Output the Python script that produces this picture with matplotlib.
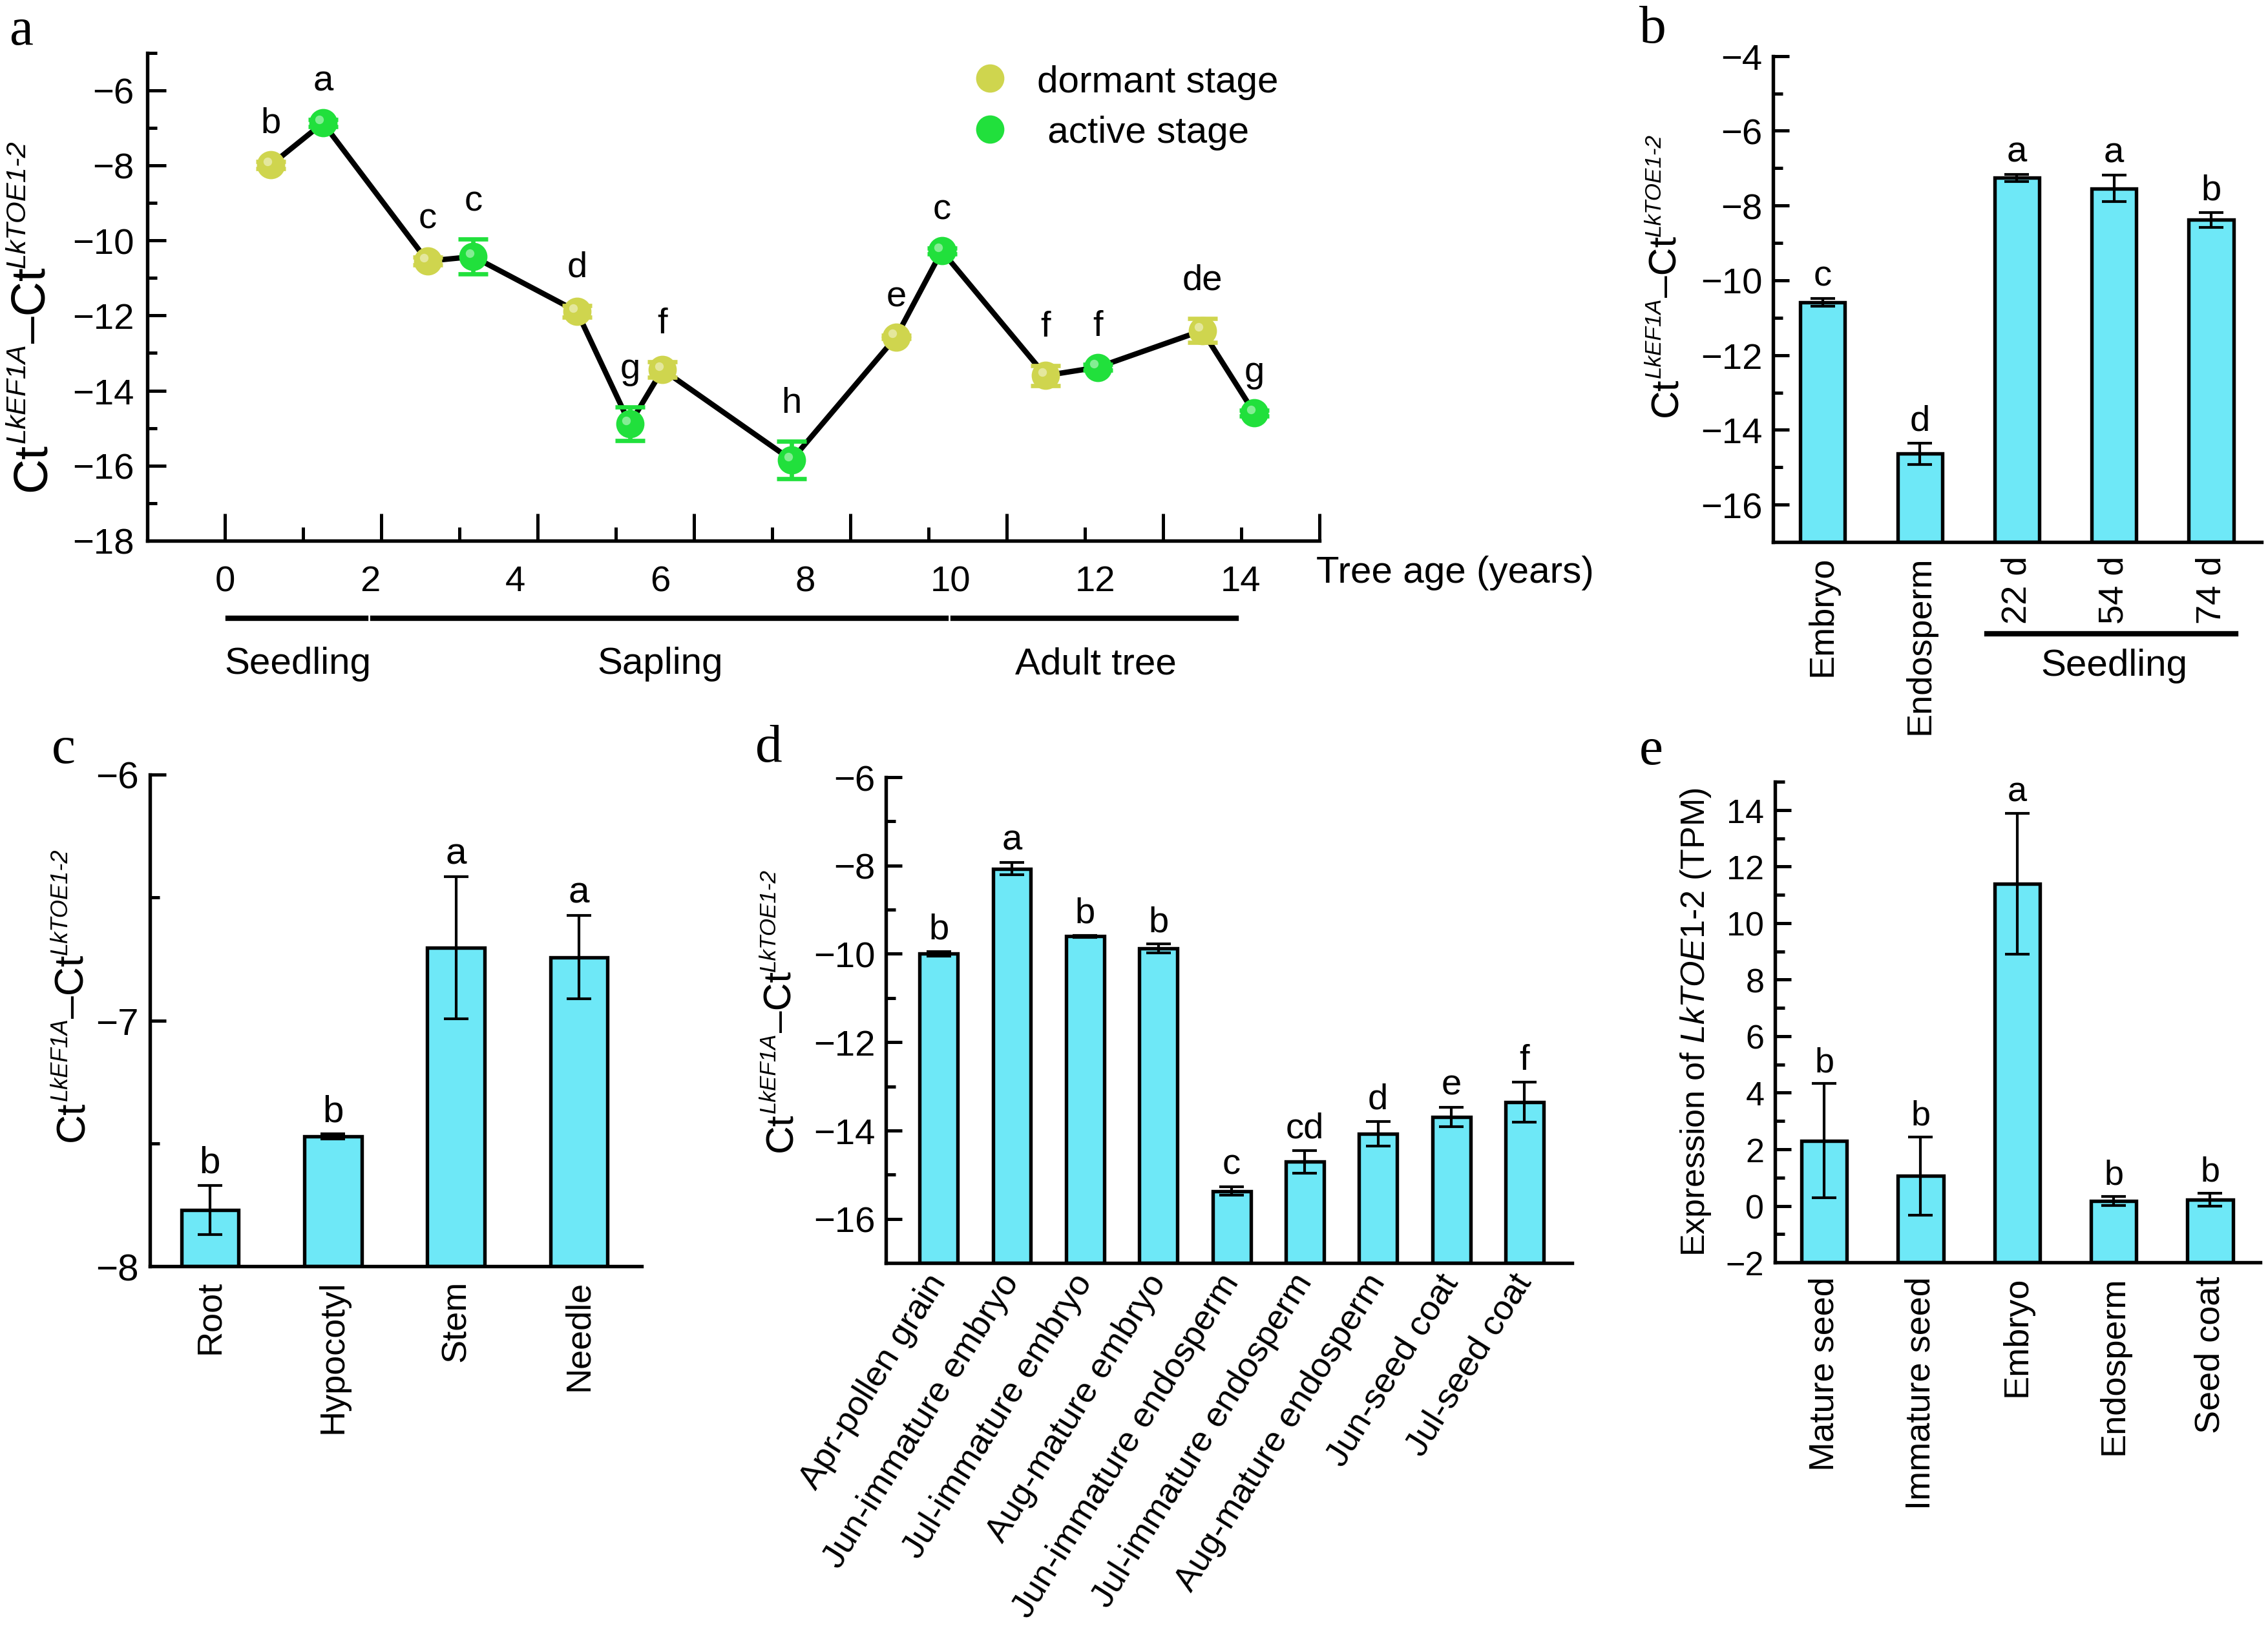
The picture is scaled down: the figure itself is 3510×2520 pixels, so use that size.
import matplotlib.pyplot as plt
import matplotlib.transforms as mtransforms
import numpy as np

plt.rcParams['font.family'] = ['Liberation Sans', 'DejaVu Sans']
plt.rcParams['mathtext.fontset'] = 'custom'
plt.rcParams['mathtext.rm'] = 'Liberation Sans'
plt.rcParams['mathtext.it'] = 'Liberation Sans:italic'

# ---- panel a: tree age series ----
ages = [0.63, 1.35, 2.79, 3.42, 4.85, 5.58, 6.03, 7.81, 9.25, 9.88, 11.31, 12.03, 13.47, 14.19]
ct_a = [-7.99, -6.87, -10.55, -10.43, -11.89, -14.89, -13.44, -15.85,
        -12.57, -10.28, -13.60, -13.38, -12.40, -14.60]
err_a = [0.10, 0.10, 0.10, 0.46, 0.15, 0.45, 0.20, 0.50, 0.05, 0.08, 0.27, 0.08, 0.32, 0.07]
stage_a = ['dormant', 'active'] * 7
sig_a = ['b', 'a', 'c', 'c', 'd', 'g', 'f', 'h', 'e', 'c', 'f', 'f', 'de', 'g']
age_ticks = [0, 2, 4, 6, 8, 10, 12, 14]
phase_names = ['Seedling', 'Sapling', 'Adult tree']
phase_start = [0, 2, 10]
phase_end = [2, 10, 14]

# ---- panel b: seed / seedling ----
b_names = ['Embryo', 'Endosperm', '22 d', '54 d', '74 d']
b_vals = [-10.59, -14.64, -7.26, -7.54, -8.38]
b_err = [0.10, 0.28, 0.09, 0.36, 0.20]
b_sig = ['c', 'd', 'a', 'a', 'b']

# ---- panel c: seedling organs ----
c_names = ['Root', 'Hypocotyl', 'Stem', 'Needle']
c_vals = [-7.77, -7.472, -6.704, -6.743]
c_err = [0.10, 0.01, 0.29, 0.17]
c_sig = ['b', 'b', 'a', 'a']

# ---- panel d: reproductive tissues ----
d_names = ['Apr-pollen grain', 'Jun-immature embryo', 'Jul-immature embryo',
           'Aug-mature embryo', 'Jun-immature endosperm', 'Jul-immature endosperm',
           'Aug-mature endosperm', 'Jun-seed coat', 'Jul-seed coat']
d_vals = [-10.00, -8.07, -9.60, -9.88, -15.37, -14.71, -14.07, -13.69, -13.36]
d_err = [0.05, 0.14, 0.02, 0.10, 0.10, 0.26, 0.28, 0.22, 0.45]
d_sig = ['b', 'a', 'b', 'b', 'c', 'cd', 'd', 'e', 'f']

# ---- panel e: TPM ----
e_names = ['Mature seed', 'Immature seed', 'Embryo', 'Endosperm', 'Seed coat']
e_vals = [2.30, 1.06, 11.39, 0.17, 0.22]
e_err = [2.02, 1.38, 2.50, 0.16, 0.22]
e_sig = ['b', 'b', 'a', 'b', 'b']

BAR = '#6ee8f7'
DORM = '#cfd54e'
ACT = '#21e03c'
LW = 1.3

fig = plt.figure(figsize=(11.7, 8.4033), dpi=300)
ax_a = fig.add_axes([0.0650, 0.6676, 0.5168, 0.2996])
ax_b = fig.add_axes([0.7818, 0.6668, 0.2154, 0.2984])
ax_c = fig.add_axes([0.0660, 0.2221, 0.2169, 0.3019])
ax_d = fig.add_axes([0.3906, 0.2241, 0.3026, 0.2983])
ax_e = fig.add_axes([0.7826, 0.2245, 0.2140, 0.2951])

for ax in (ax_a, ax_b, ax_c, ax_d, ax_e):
    ax.spines[['top', 'right']].set_visible(False)
    ax.spines[['left', 'bottom']].set_linewidth(LW)


def stacked_ylabel(x, yc, parts):
    # rotated label built from pieces (text, size, style, rise in pt)
    items = []
    for s, size, style, rise in parts:
        t = fig.text(0, 0, s, fontsize=size, style=style, rotation=90,
                     rotation_mode='anchor', ha='left', va='baseline')
        items.append((t, rise))
    r = fig.canvas.get_renderer()
    W, H = fig.bbox.width, fig.bbox.height
    lens = [t.get_window_extent(r).height for t, _ in items]
    y = yc * H - sum(lens) / 2
    for (t, rise), L in zip(items, lens):
        t.set_position((x - rise * fig.dpi / 72 / W, y / H))
        y += L


def ct_label(x, yc, size):
    stacked_ylabel(x, yc, [('Ct', size, 'normal', 0),
                           ('LkEF1A', size * 0.58, 'italic', size * 0.42),
                           ('\u2013Ct', size, 'normal', 0),
                           ('LkTOE1-2', size * 0.58, 'italic', size * 0.42)])


# ================= panel a =================
ax = ax_a
ax.plot(ages, ct_a, color='black', lw=2, zorder=2)
for st, col, lab in (('dormant', DORM, 'dormant stage'), ('active', ACT, ' active stage')):
    idx = [i for i, s in enumerate(stage_a) if s == st]
    xs = [ages[i] for i in idx]
    ys = [ct_a[i] for i in idx]
    es = [err_a[i] for i in idx]
    ax.errorbar(xs, ys, yerr=es, fmt='none', ecolor=col, elinewidth=1.6,
                capsize=5.5, capthick=1.6, zorder=3)
    ax.plot(xs, ys, 'o', color=col, ms=9.5, mec=col, zorder=4, label=lab)
    hl = mtransforms.offset_copy(ax.transData, fig=fig, x=-1.3, y=1.3, units='points')
    ax.plot(xs, ys, 'o', color='white', alpha=0.45, ms=3.2, mew=0, zorder=5, transform=hl)
for x, y, e, s in zip(ages, ct_a, err_a, sig_a):
    ax.annotate(s, (x, y + e), xytext=(0, 8), textcoords='offset points',
                ha='center', va='bottom', fontsize=13.5)

step = 1.0775
ax.set_xlim(-1.07, 14 * step + 0.002)
ax.set_ylim(-18, -5)
ax.set_xticks(np.arange(0, 15, 2) * step)
ax.set_xticks(np.arange(1, 15, 2) * step, minor=True)
ax.set_xticklabels([])
ax.tick_params(axis='x', which='major', direction='in', length=10, width=1.2)
ax.tick_params(axis='x', which='minor', direction='in', length=5, width=1.2)
ax.set_yticks(np.arange(-18, -5, 2))
ax.set_yticks(np.arange(-17, -4, 2), minor=True)
ax.tick_params(axis='y', which='major', direction='in', length=7, width=1.2,
               labelsize=13.5, pad=5)
ax.tick_params(axis='y', which='minor', direction='in', length=3.5, width=1.2)
sec = ax.secondary_xaxis('bottom')
sec.set_xticks(age_ticks)
sec.tick_params(length=0, pad=9, labelsize=13.5)
sec.spines['bottom'].set_visible(False)

tr = ax.get_xaxis_transform()
for name, a0, a1 in zip(phase_names, phase_start, phase_end):
    ax.plot([a0 + 0.04, a1 - 0.06], [-0.159, -0.159], color='black', lw=2,
            transform=tr, clip_on=False)
    ax.text((a0 + a1) / 2, -0.252, name, transform=tr, ha='center', va='center',
            fontsize=14)
fig.text(0.5803, 0.6482, 'Tree age (years)', ha='left', va='center', fontsize=14)
ax.legend(loc='upper left', bbox_to_anchor=(0.4282, 0.9600), bbox_transform=fig.transFigure,
          frameon=False, fontsize=14, handlelength=1.0, handletextpad=0.75,
          labelspacing=0.42, borderpad=0, borderaxespad=0, numpoints=1)
ct_label(0.0199, 0.806, 18)


# ================= bar panels =================
def bar_panel(ax, names, vals, errs, sig, ylim, major, minor, xlim, width,
              rot=90, tfs=13, lfs=13, yfs=13.5):
    x = np.arange(len(names))
    base = ylim[0]
    ax.bar(x, np.array(vals) - base, bottom=base, width=width, color=BAR,
           edgecolor='black', linewidth=LW, zorder=2)
    ax.errorbar(x, vals, yerr=errs, fmt='none', ecolor='black', elinewidth=1,
                capsize=4.5, capthick=1, zorder=3)
    for xi, v, e, s in zip(x, vals, errs, sig):
        ax.annotate(s, (xi, v + e), xytext=(0, 2), textcoords='offset points',
                    ha='center', va='bottom', fontsize=lfs)
    ax.set_xlim(*xlim)
    ax.set_ylim(*ylim)
    ax.set_yticks(major)
    ax.set_yticks(minor, minor=True)
    ax.set_xticks(x)
    if rot == 90:
        ax.set_xticklabels(names, rotation=90, ha='center', va='top', fontsize=tfs)
    else:
        ax.set_xticklabels(names, rotation=rot, ha='right', va='center',
                           rotation_mode='anchor', fontsize=tfs)
    ax.tick_params(axis='x', direction='in', length=4, width=1.2, pad=5)
    ax.tick_params(axis='y', which='major', direction='in', length=6, width=1.2,
                   labelsize=yfs, pad=4)
    ax.tick_params(axis='y', which='minor', direction='in', length=3.5, width=1.2)


bar_panel(ax_b, b_names, b_vals, b_err, b_sig, (-17, -4), np.arange(-16, -3, 2),
          np.arange(-15, -4, 2), (-0.51, 4.52), 0.46, lfs=13.5)
trb = ax_b.get_xaxis_transform()
ax_b.plot([1.69, 4.25], [-0.189, -0.189], color='black', lw=2, transform=trb, clip_on=False)
ax_b.text(3.0, -0.254, 'Seedling', transform=trb, ha='center', va='center', fontsize=14)
ct_label(0.7393, 0.831, 14.5)

bar_panel(ax_c, c_names, c_vals, c_err, c_sig, (-8, -6), [-8, -7, -6], [-7.5, -6.5],
          (-0.49, 3.51), 0.465, lfs=14, yfs=14)
ct_label(0.037, 0.389, 15)

bar_panel(ax_d, d_names, d_vals, d_err, d_sig, (-17, -6), np.arange(-16, -5, 2),
          np.arange(-15, -6, 2), (-0.72, 8.65), 0.52, rot=58, lfs=13.5, yfs=13.5)
ct_label(0.349, 0.3796, 14.5)

bar_panel(ax_e, e_names, e_vals, e_err, e_sig, (-2, 15), np.arange(-2, 15, 2),
          np.arange(-1, 16, 2), (-0.51, 4.52), 0.47, yfs=12.5, lfs=13)
fig.text(0.7516, 0.3725, r'Expression of $\mathit{LkTOE1}$-$\mathit{2}$ (TPM)',
         rotation=90, rotation_mode='anchor', ha='center', va='baseline', fontsize=12.5)

# panel letters
for lab, x, y in (('a', 33, 49), ('b', 2558, 46), ('c', 98, 1161), ('d', 1190, 1159),
                  ('e', 2555, 1163)):
    fig.text(x / 3510, 1 - y / 2521, lab, family='Liberation Serif', fontsize=20,
             ha='center', va='center')

fig.savefig('out.png', dpi=300, facecolor='white')
